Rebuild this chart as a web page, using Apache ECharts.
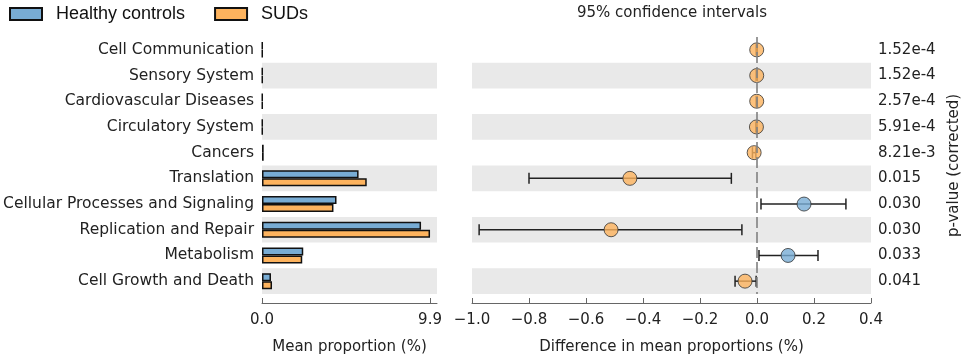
<!DOCTYPE html>
<html>
<head>
<meta charset="utf-8">
<script src="https://cdn.jsdelivr.net/npm/echarts@6/dist/echarts.min.js"></script>
<style>
html,body{margin:0;padding:0;background:#fff;}
#chart{width:964px;height:356px;}
</style>
</head>
<body>
<div id="chart"></div>
<script>
const categories = ['Cell Communication','Sensory System','Cardiovascular Diseases','Circulatory System','Cancers','Translation','Cellular Processes and Signaling','Replication and Repair','Metabolism','Cell Growth and Death'];
const healthy = [0.03,0.03,0.03,0.03,0.10,5.69,4.39,9.37,2.43,0.53];
const suds    = [0.03,0.03,0.03,0.03,0.10,6.17,4.21,9.90,2.37,0.59];
const diffs   = [-0.001,-0.001,-0.001,-0.002,-0.010,-0.446,0.165,-0.512,0.109,-0.042];
const ciLow   = [-0.003,-0.003,-0.003,-0.004,-0.016,-0.800,0.014,-0.975,0.007,-0.077];
const ciHigh  = [0.001,0.001,0.001,0.000,-0.004,-0.090,0.312,-0.053,0.214,-0.003];
const pValues = ['1.52e-4','1.52e-4','2.57e-4','5.91e-4','8.21e-3','0.015','0.030','0.030','0.033','0.041'];
const leftTicks = [0, 9.9];

const BLUE = '#78acd4';
const ORANGE = '#fdb35e';
const FONT = 'DejaVu Sans';
const bandColors = ['rgba(255,255,255,0)', '#e9e9e9'];

function fmtTick(v){
  if (Math.abs(v) < 1e-9) return '0.0';
  return v < 0 ? '\u2212' + Math.abs(v).toFixed(1) : v.toFixed(1);
}

const chart = echarts.init(document.getElementById('chart'), null, {renderer:'canvas'});
const option = {
  animation:false,
  backgroundColor:'#fff',
  title:{
    text:'95% confidence intervals', left:672, top:6, textAlign:'center', padding:0,
    textStyle:{fontFamily:FONT, fontSize:15, fontWeight:'normal', color:'#222'}
  },
  legend:{
    data:['Healthy controls','SUDs'], left:9, top:5, padding:0, itemWidth:32, itemHeight:12, itemGap:29,
    icon:'rect',
    textStyle:{fontFamily:'Liberation Sans', fontSize:18, color:'#111', padding:[0,0,0,9]}
  },
  grid:[
    {left:262, width:175, top:37, height:257, outerBoundsMode:'none', containLabel:false},
    {left:472, width:399, top:37, height:257, outerBoundsMode:'none', containLabel:false}
  ],
  xAxis:[
    {gridIndex:0, type:'value', min:0, max:10.31, offset:9,
     axisLine:{show:true, lineStyle:{color:'#666', width:1}},
     axisTick:{show:true, inside:true, length:5, customValues:leftTicks, lineStyle:{color:'#666'}},
     axisLabel:{customValues:leftTicks, formatter:v=>fmtTick(v), fontFamily:FONT, fontSize:15, color:'#222', margin:10},
     splitLine:{show:false},
     name:'Mean proportion (%)', nameLocation:'middle', nameGap:37,
     nameTextStyle:{fontFamily:FONT, fontSize:15, color:'#222'}},
    {gridIndex:1, type:'value', min:-1, max:0.4, interval:0.2, offset:9,
     axisLine:{show:true, lineStyle:{color:'#666', width:1}},
     axisTick:{show:true, inside:true, length:5, lineStyle:{color:'#666'}},
     axisLabel:{formatter:v=>fmtTick(v), fontFamily:FONT, fontSize:15, color:'#222', margin:10, showMinLabel:true, showMaxLabel:true},
     splitLine:{show:false},
     name:'Difference in mean proportions (%)', nameLocation:'middle', nameGap:37,
     nameTextStyle:{fontFamily:FONT, fontSize:15, color:'#222'}}
  ],
  yAxis:[
    {gridIndex:0, type:'category', data:categories, inverse:true,
     axisLine:{show:false}, axisTick:{show:false},
     axisLabel:{fontFamily:FONT, fontSize:15.5, color:'#222', margin:8},
     splitArea:{show:true, areaStyle:{color:bandColors}}},
    {gridIndex:1, type:'category', data:categories, inverse:true,
     axisLine:{show:false}, axisTick:{show:false}, axisLabel:{show:false},
     splitArea:{show:true, areaStyle:{color:bandColors}}},
    {gridIndex:1, type:'category', data:pValues, inverse:true, position:'right',
     axisLine:{show:false}, axisTick:{show:false},
     axisLabel:{fontFamily:FONT, fontSize:15, color:'#222', margin:7, align:'left'},
     name:'p-value (corrected)', nameLocation:'middle', nameGap:76, nameRotate:90,
     nameTextStyle:{fontFamily:FONT, fontSize:15, color:'#222'}}
  ],
  series:[
    {name:'Healthy controls', type:'bar', xAxisIndex:0, yAxisIndex:0, data:healthy,
     barWidth:8, barGap:'0%', itemStyle:{color:BLUE, borderColor:'#111', borderWidth:1.5}},
    {name:'SUDs', type:'bar', xAxisIndex:0, yAxisIndex:0, data:suds,
     barWidth:8, barGap:'0%', itemStyle:{color:ORANGE, borderColor:'#111', borderWidth:1.5}},
    {type:'custom', xAxisIndex:1, yAxisIndex:1,
     data:categories.map((c,i)=>[ciLow[i], ciHigh[i], i]),
     encode:{x:[0,1], y:2},
     renderItem:function(params, api){
       const a = api.coord([api.value(0), api.value(2)]);
       const b = api.coord([api.value(1), api.value(2)]);
       const h = 5.5;
       const st = {stroke:'#222', lineWidth:1.5};
       return {type:'group', children:[
         {type:'line', shape:{x1:a[0], y1:a[1], x2:b[0], y2:b[1]}, style:st},
         {type:'line', shape:{x1:a[0], y1:a[1]-h, x2:a[0], y2:a[1]+h}, style:st},
         {type:'line', shape:{x1:b[0], y1:b[1]-h, x2:b[0], y2:b[1]+h}, style:st}
       ]};
     },
     z:3},
    {type:'scatter', xAxisIndex:1, yAxisIndex:1, symbolSize:14, z:4,
     data:categories.map((c,i)=>({value:[diffs[i], c], itemStyle:{color: diffs[i] < 0 ? ORANGE : BLUE}})),
     itemStyle:{borderColor:'#333', borderWidth:1},
     markLine:{silent:true, symbol:['none','none'], label:{show:false},
       lineStyle:{type:[11,4], color:'#808080', width:1.6},
       data:[{xAxis:0}]}}
  ]
};
chart.setOption(option);
</script>
</body>
</html>
